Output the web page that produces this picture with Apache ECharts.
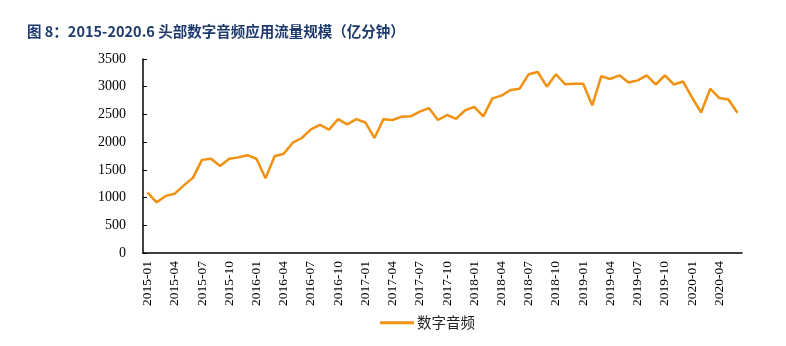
<!DOCTYPE html>
<html><head><meta charset="utf-8">
<script src="https://cdn.jsdelivr.net/npm/echarts@6/dist/echarts.min.js"></script>
<style>html,body{margin:0;padding:0;background:#fff}#c{width:786px;height:346px}</style>
</head><body><div id="c"></div>
<script>
const titleText = '图 8：2015-2020.6 头部数字音频应用流量规模（亿分钟）';
const seriesName = '数字音频';
const categories = [];
for (let y = 2015; y <= 2020; y++) {
  for (let m = 1; m <= 12; m++) {
    if (y === 2020 && m > 6) break;
    categories.push(y + '-' + (m < 10 ? '0' + m : m));
  }
}
const values = [
  1090, 915, 1030, 1070, 1220, 1355, 1680, 1700, 1570, 1700, 1725, 1765,
  1700, 1350, 1745, 1790, 1990, 2075, 2230, 2310, 2225, 2415, 2320, 2415,
  2355, 2075, 2415, 2400, 2460, 2465, 2550, 2615, 2400, 2490, 2420, 2575,
  2635, 2465, 2790, 2840, 2940, 2965, 3225, 3265, 3000, 3225, 3045, 3055,
  3055, 2665, 3190, 3140, 3205, 3075, 3115, 3205, 3040, 3205, 3040, 3095,
  2805, 2535, 2965, 2795, 2770, 2530
];
const yTicks = { min: 0, max: 3500, interval: 500 };

const chart = echarts.init(document.getElementById('c'));
chart.setOption({
  animation: false,
  title: {
    text: titleText, left: 22, top: 19,
    textStyle: { color: '#1F3B6E', fontSize: 14.5, fontWeight: 'bold', fontFamily: 'Noto Sans CJK SC' }
  },
  grid: { left: 143, right: 44, top: 59, bottom: 93 },
  legend: {
    bottom: 11, left: 375,
    data: [seriesName],
    itemWidth: 34, itemHeight: 3, itemGap: 4,
    icon: 'rect',
    textStyle: { fontFamily: 'Noto Sans CJK SC', fontSize: 14.5, color: '#222', padding: [0, 0, 0, -2] }
  },
  xAxis: {
    type: 'category', data: categories, boundaryGap: true,
    axisLine: { lineStyle: { color: '#000', width: 1.5 } },
    axisTick: { show: false },
    axisLabel: {
      rotate: 90, interval: 2, margin: 8,
      fontFamily: 'Liberation Serif', fontSize: 13.5, color: '#000'
    }
  },
  yAxis: {
    type: 'value', min: yTicks.min, max: yTicks.max, interval: yTicks.interval,
    axisLine: { show: true, lineStyle: { color: '#000', width: 1.5 } },
    axisTick: { show: true, inside: true, length: 4, lineStyle: { color: '#000' } },
    splitLine: { show: false },
    axisLabel: {
      fontFamily: 'Liberation Serif', fontSize: 14, color: '#000', margin: 17,
      formatter: function (v) { return String(v); }
    }
  },
  series: [{
    name: seriesName, type: 'line', data: values,
    symbol: 'none', smooth: false,
    lineStyle: { color: '#F29111', width: 2.5 },
    itemStyle: { color: '#F29111' }
  }]
});
</script></body></html>
